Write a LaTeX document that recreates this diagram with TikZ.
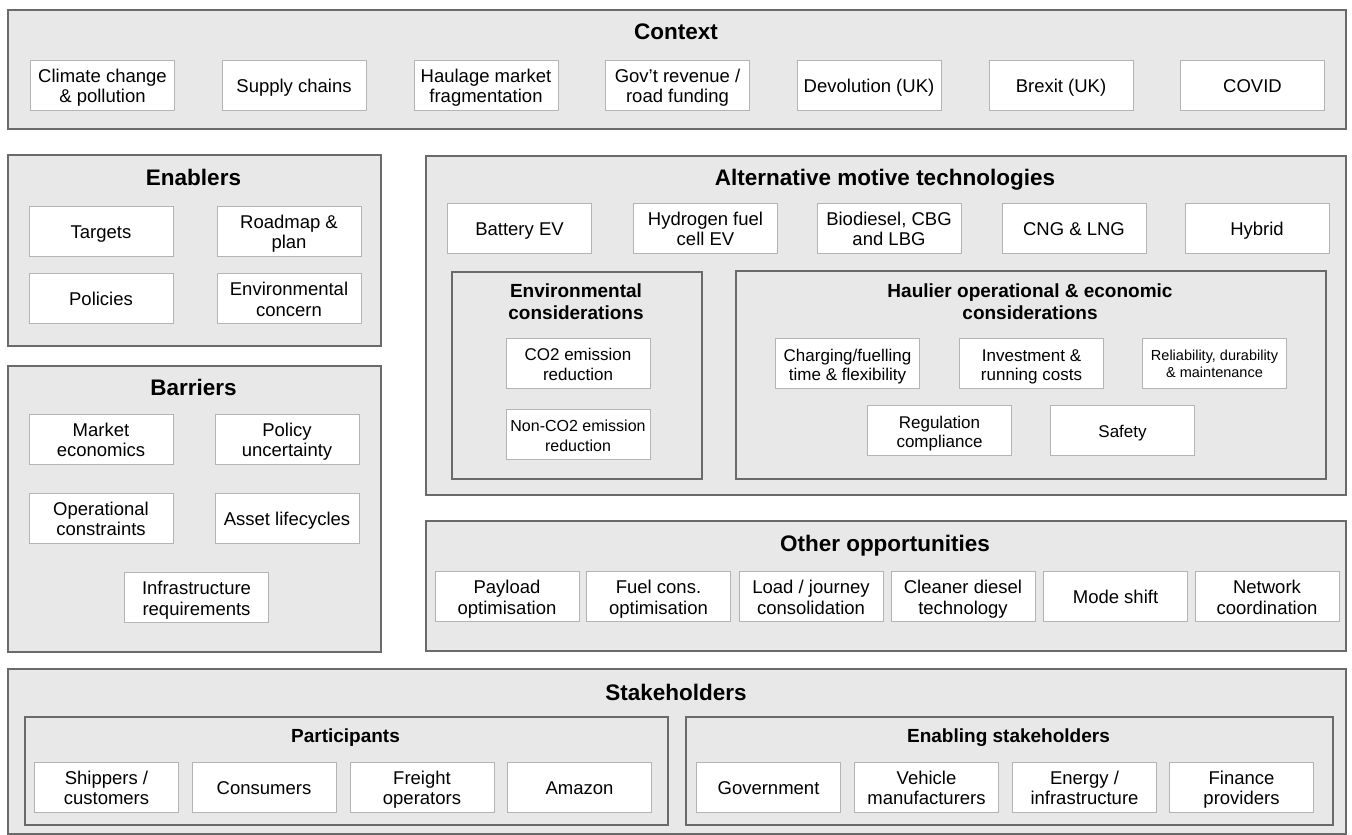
\documentclass[tikz,border=0pt]{standalone}
\usepackage{fontspec}
\setmainfont{Liberation Sans}
\definecolor{frameC}{HTML}{6A6A6A}
\definecolor{fillC}{HTML}{E8E8E8}
\definecolor{itemC}{HTML}{B4B4B4}
\newcommand\mystrut[2]{\rule[-#1pt]{0pt}{#2pt}}
\newcommand\tp{\rule{0pt}{18.5pt}}
\tikzset{
  centred/.style 2 args={execute at begin node=\mystrut{#1}{#2}, execute at end node=\mystrut{#1}{#2}},
  frame/.style={draw=frameC, fill=fillC, line width=1.5pt, inner sep=0pt, anchor=north west},
  item/.style={draw=itemC, fill=white, line width=0.9pt, minimum width=144pt, minimum height=50pt,
    align=center, inner sep=1pt, font=\fontsize{18.5}{20.5}\selectfont, centred={4}{22.25}},
  smallitem/.style={item, font=\fontsize{17}{19.5}\selectfont},
  ttl/.style={font=\fontsize{22.5}{26}\selectfont\bfseries, inner sep=0pt, centred={5}{26.1}},
  subttl/.style={font=\fontsize{19}{22}\selectfont\bfseries, align=center, inner sep=0pt, centred={4.5}{23.1}},
}
\begin{document}
\begin{tikzpicture}[x=1pt,y=-1pt]
\useasboundingbox[fill=white] (0,0) rectangle (1352,835);

% Context
\node[frame, minimum width=1338pt, minimum height=119pt] (ctxF) at (7,9) {};
\node[ttl] (ctxT) at (676,31) {Context};
\node[item] (c1) at (102.5,85) {\tp Climate change\\\& pollution};
\node[item] (c2) at (294,85) {Supply chains};
\node[item] (c3) at (486,85) {\tp Haulage market\\fragmentation};
\node[item] (c4) at (677.5,85) {\tp Gov’t revenue /\\road funding};
\node[item] (c5) at (869,85) {Devolution (UK)};
\node[item] (c6) at (1061,85) {Brexit (UK)};
\node[item] (c7) at (1252.5,85) {COVID};

% Enablers
\node[frame, minimum width=373pt, minimum height=191pt] (enF) at (7,154) {};
\node[ttl] (enT) at (193.5,177) {Enablers};
\node[item] (e1) at (101,231) {Targets};
\node[item] (e2) at (289,231) {\tp Roadmap \&\\plan};
\node[item] (e3) at (101,298.5) {Policies};
\node[item] (e4) at (289,298.5) {\tp Environmental\\concern};

% Barriers
\node[frame, minimum width=373pt, minimum height=286pt] (baF) at (7,365) {};
\node[ttl] (baT) at (193.5,387) {Barriers};
\node[item] (b1) at (101,439) {\tp Market\\economics};
\node[item] (b2) at (287,439) {\tp Policy\\uncertainty};
\node[item] (b3) at (101,518) {\tp Operational\\constraints};
\node[item] (b4) at (287,518) {Asset lifecycles};
\node[item] (b5) at (196.5,597.5) {\tp Infrastructure\\requirements};

% Alternative motive technologies
\node[frame, minimum width=920pt, minimum height=339pt] (amF) at (425,155) {};
\node[ttl] (amT) at (885,177) {Alternative motive technologies};
\node[item] (a1) at (519.5,228) {Battery EV};
\node[item] (a2) at (705.5,228) {\tp Hydrogen fuel\\cell EV};
\node[item] (a3) at (889,228) {\tp Biodiesel, CBG\\and LBG};
\node[item] (a4) at (1074,228) {CNG \& LNG};
\node[item] (a5) at (1257,228) {Hybrid};

% Environmental considerations
\node[frame, minimum width=250pt, minimum height=207pt] (evF) at (451,271) {};
\node[subttl] (evT) at (576,301) {\tp Environmental\\considerations};
\node[smallitem] (v1) at (578,363) {\tp CO2 emission\\reduction};
\node[item, font=\fontsize{16}{19.5}\selectfont] (v2) at (578,434) {\tp Non-CO2 emission\\reduction};

% Haulier considerations
\node[frame, minimum width=590pt, minimum height=208pt] (haF) at (735,270) {};
\node[subttl] (haT) at (1030,301.5) {\tp Haulier operational \& economic\\considerations};
\node[smallitem] (h1) at (847.5,363.5) {\tp Charging/fuelling\\time \& flexibility};
\node[smallitem] (h2) at (1031.5,363.5) {\tp Investment \&\\running costs};
\node[item, font=\fontsize{14.5}{17}\selectfont] (h3) at (1214.5,363.5) {\rule{0pt}{15pt}Reliability, durability\\\& maintenance};
\node[smallitem] (h4) at (939.5,430.5) {\tp Regulation\\compliance};
\node[smallitem] (h5) at (1122.5,430.5) {Safety};

% Other opportunities
\node[frame, minimum width=920pt, minimum height=130pt] (ooF) at (425,520) {};
\node[ttl] (ooT) at (885,543) {Other opportunities};
\node[item] (o1) at (507,596.5) {\tp Payload\\optimisation};
\node[item] (o2) at (658.5,596.5) {\tp Fuel cons.\\optimisation};
\node[item] (o3) at (811,596.5) {\tp Load / journey\\consolidation};
\node[item] (o4) at (963,596.5) {\tp Cleaner diesel\\technology};
\node[item] (o5) at (1115.5,596.5) {Mode shift};
\node[item] (o6) at (1267,596.5) {\tp Network\\coordination};

% Stakeholders
\node[frame, minimum width=1338pt, minimum height=165pt] (stF) at (7,668) {};
\node[ttl] (stT) at (676,692) {Stakeholders};
\node[frame, minimum width=643pt, minimum height=108pt] (paF) at (24,716) {};
\node[subttl] (paT) at (345.5,735) {Participants};
\node[item] (p1) at (106.5,787) {\tp Shippers /\\customers};
\node[item] (p2) at (264,787) {Consumers};
\node[item] (p3) at (422,787) {\tp Freight\\operators};
\node[item] (p4) at (579.5,787) {Amazon};
\node[frame, minimum width=647pt, minimum height=108pt] (esF) at (685,716) {};
\node[subttl] (esT) at (1008.5,735) {Enabling stakeholders};
\node[item] (s1) at (768.5,787) {Government};
\node[item] (s2) at (926.5,787) {\tp Vehicle\\manufacturers};
\node[item] (s3) at (1084.5,787) {\tp Energy /\\infrastructure};
\node[item] (s4) at (1241.5,787) {\tp Finance\\providers};
\end{tikzpicture}
\end{document}
